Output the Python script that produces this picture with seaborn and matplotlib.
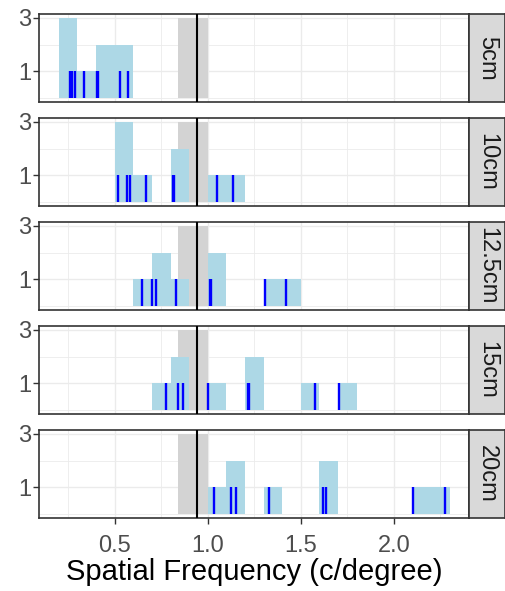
import numpy as np
import pandas as pd
import matplotlib
matplotlib.use("Agg")
import matplotlib.pyplot as plt
from matplotlib.patches import Rectangle
import seaborn as sns

sns.set_style("white")
plt.rcParams['font.family'] = ['Liberation Sans', 'DejaVu Sans']

# ---- data ----
facets = ["5cm", "10cm", "12.5cm", "15cm", "20cm"]
sf_5cm = [0.258, 0.270, 0.285, 0.334, 0.404, 0.411, 0.526, 0.569]
sf_10cm = [0.518, 0.564, 0.580, 0.669, 0.812, 0.816, 1.052, 1.137]
sf_12_5cm = [0.645, 0.701, 0.721, 0.831, 1.014, 1.018, 1.310, 1.422]
sf_15cm = [0.776, 0.840, 0.865, 1.002, 1.216, 1.224, 1.575, 1.707]
sf_20cm = [1.032, 1.123, 1.151, 1.331, 1.618, 1.634, 2.105, 2.272]
band_low, band_high = 0.84, 1.0
ref_line = 0.94
x_ticks = [0.5, 1.0, 1.5, 2.0]
x_ticklabels = ["0.5", "1.0", "1.5", "2.0"]
y_ticks = [1, 3]
xlabel = "Spatial Frequency (c/degree)"

values = [sf_5cm, sf_10cm, sf_12_5cm, sf_15cm, sf_20cm]
df = pd.DataFrame({
    "sf": np.concatenate(values),
    "dist": np.repeat(facets, [len(v) for v in values]),
})
bin_edges = np.round(np.arange(0.2, 2.31, 0.1), 2)

W, H = 506, 591
fig = plt.figure(figsize=(W / 100, H / 100), dpi=100)

left, right = 39.3, 469.3
top0, bottom_last = 14.0, 517.7
ph = 87.7
gap = (bottom_last - top0 - 5 * ph) / 4
strip_w = 35.5

border_col = "#333333"
tick_fs = 17
for i, name in enumerate(facets):
    top = top0 + i * (ph + gap)
    ax = fig.add_axes([left / W, 1 - (top + ph) / H, (right - left) / W, ph / H])
    ax.set_axisbelow(True)
    ax.set_xlim(0.095, 2.405)
    ax.set_ylim(-0.15, 3.15)
    ax.set_xticks(x_ticks)
    ax.set_xticks([0.25, 0.75, 1.25, 1.75, 2.25], minor=True)
    ax.set_yticks(y_ticks)
    ax.set_yticks([0, 2], minor=True)
    ax.grid(which="major", color="#EBEBEB", lw=1.0)
    ax.grid(which="minor", color="#EBEBEB", lw=0.6)

    ax.add_patch(Rectangle((band_low, 0), band_high - band_low, 3,
                           facecolor="lightgrey", edgecolor="none", zorder=1))
    sub = df[df["dist"] == name]
    sns.histplot(data=sub, x="sf", bins=bin_edges, color="lightblue",
                 alpha=1, linewidth=0, edgecolor="none", ax=ax, zorder=2)
    ax.vlines(sub["sf"], 0, 1, colors="blue", lw=1.7, zorder=3)
    ax.axvline(ref_line, color="black", lw=1.5, zorder=4)

    ax.set_xlabel("")
    ax.set_ylabel("")
    ax.tick_params(axis="y", which="major", length=4, width=1, color="#333333",
                   labelsize=tick_fs, labelcolor="#4D4D4D", pad=2, left=True)
    ax.tick_params(axis="y", which="minor", length=0)
    ax.tick_params(axis="x", which="minor", length=0)
    if i < len(facets) - 1:
        ax.tick_params(axis="x", which="major", length=0, labelbottom=False)
    else:
        ax.set_xticklabels(x_ticklabels)
        ax.tick_params(axis="x", which="major", length=4.5, width=1, color="#333333",
                       labelsize=tick_fs, labelcolor="#4D4D4D", pad=8, bottom=True)
        ax.set_xlabel(xlabel, fontsize=21, color="black", labelpad=1)
    for sp in ax.spines.values():
        sp.set_visible(True)
        sp.set_color(border_col)
        sp.set_linewidth(1.2)

    # strip on the right
    sax = fig.add_axes([right / W, 1 - (top + ph) / H, strip_w / W, ph / H])
    sax.set_facecolor("#D9D9D9")
    sax.set_xticks([])
    sax.set_yticks([])
    for sp in sax.spines.values():
        sp.set_color(border_col)
        sp.set_linewidth(1.2)
    sax.text(0.5, 0.5, name, rotation=-90, ha="center", va="center",
             fontsize=tick_fs, color="#1A1A1A", transform=sax.transAxes)

fig.savefig("out.png", dpi=100)
